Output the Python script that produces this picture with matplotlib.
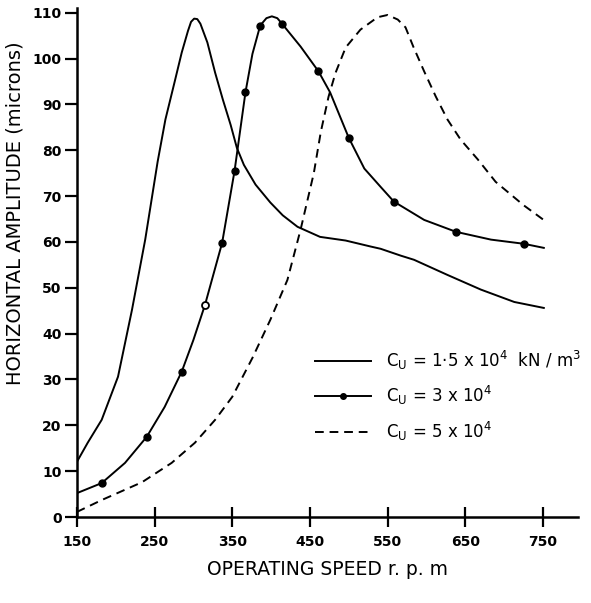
import numpy as np
import matplotlib.pyplot as plt

# Cu = 1.5 x 10^4 (solid)
speed_a = [150, 164, 182, 203, 221, 238, 254, 264, 276, 285, 293, 297, 301, 305, 309, 318, 328,
           338, 348, 356, 365, 380, 399, 415, 434, 463, 496, 528, 541, 567, 584, 627, 670, 713, 751]
amp_a = [12, 16.2, 21.2, 30.6, 45.2, 60.5, 77.5, 86.7, 95, 101.3, 106, 108, 108.7, 108.6, 107.6,
         103.5, 96.9, 91, 85.5, 80.5, 76.8, 72.5, 68.6, 65.8, 63.3, 61.1, 60.3, 59, 58.5, 57,
         56.1, 52.8, 49.6, 46.9, 45.6]

# Cu = 3 x 10^4 (with measured points)
speed_b = [150, 182, 212, 240, 263, 285, 300, 315, 337, 353, 367, 376, 386, 394, 401, 408,
           414, 438, 461, 476, 500, 520, 541, 558, 597, 638, 683, 725, 751]
amp_b = [5.2, 7.4, 11.8, 17.5, 24, 31.7, 38.6, 46.3, 59.8, 75.5, 92.6, 101, 107.2, 108.8,
         109.2, 108.8, 107.6, 102.6, 97.2, 92.6, 82.7, 76, 72, 68.8, 64.8, 62.2, 60.5, 59.6, 58.7]
marker_speed = [182, 240, 285, 337, 353, 367, 386, 414, 461, 500, 558, 638, 725]
marker_amp = [7.4, 17.5, 31.7, 59.8, 75.5, 92.6, 107.2, 107.6, 97.2, 82.7, 68.8, 62.2, 59.6]
open_speed = [315]
open_amp = [46.3]

# Cu = 5 x 10^4 (dashed)
speed_c = [150, 182, 234, 272, 302, 328, 350, 376, 399, 421, 438, 455, 464, 474, 483, 496,
           515, 537, 550, 563, 573, 583, 597, 612, 627, 644, 666, 689, 725, 754]
amp_c = [1.1, 3.7, 7.6, 11.8, 16.2, 21.2, 26.2, 34.7, 43, 51.7, 62.7, 75, 84, 91.7, 96.9,
         102.4, 106.3, 109, 109.5, 108.5, 106.8, 102.6, 97.2, 91.7, 86.7, 82.3, 78, 73.1,
         68, 64.4]

xticks = [150, 250, 350, 450, 550, 650, 750]
yticks = list(range(0, 111, 10))

fig = plt.figure(figsize=(5.91, 6.03), dpi=100)
ax = fig.add_axes([0.130, 0.1426, 0.848, 0.844])

lw = 1.4
la, = ax.plot(speed_a, amp_a, '-', color='black', lw=lw)
ax.plot(speed_b, amp_b, '-', color='black', lw=lw)
ax.plot(marker_speed, marker_amp, 'o', color='black', ms=5)
ax.plot(open_speed, open_amp, 'o', mfc='white', mec='black', mew=1.3, ms=5)
lc, = ax.plot(speed_c, amp_c, '--', color='black', lw=lw, dashes=(4.5, 3))
lb, = ax.plot([], [], '-o', color='black', lw=lw, ms=4)

ax.set_xlim(150, 795)
ax.set_ylim(0, 111)
ax.set_xticks(xticks)
ax.set_yticks(yticks)
for s in ['top', 'right']:
    ax.spines[s].set_visible(False)
ax.spines['left'].set_linewidth(1.8)
ax.spines['bottom'].set_linewidth(1.8)
ax.tick_params(axis='y', direction='out', length=9, width=1.6, pad=2, labelsize=10)
ax.tick_params(axis='x', direction='inout', length=14, width=1.6, pad=6, labelsize=10)
for t in ax.get_xticklabels() + ax.get_yticklabels():
    t.set_fontweight('bold')

ax.set_ylabel("HORIZONTAL AMPLITUDE (microns)", fontsize=14)
ax.yaxis.set_label_coords(-0.104, 0.597)
ax.set_xlabel("OPERATING SPEED r. p. m", fontsize=13.5, labelpad=8)

ax.legend([la, lb, lc],
          [r"C$_\mathregular{U}$ = 1·5 x 10$^\mathregular{4}$  kN / m$^\mathregular{3}$",
           r"C$_\mathregular{U}$ = 3 x 10$^\mathregular{4}$",
           r"C$_\mathregular{U}$ = 5 x 10$^\mathregular{4}$"],
          loc='upper left', bbox_to_anchor=(0.461, 0.344), frameon=False,
          fontsize=12, handlelength=3.4, handletextpad=0.9, labelspacing=0.75,
          borderaxespad=0)

plt.savefig("out.png", dpi=100)
